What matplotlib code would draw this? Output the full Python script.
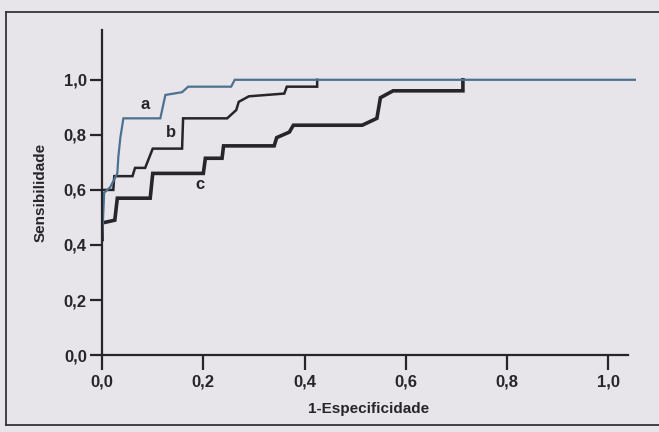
import matplotlib
matplotlib.use("Agg")
import matplotlib.pyplot as plt
from matplotlib.lines import Line2D

# Curvas ROC (1-Especificidade, Sensibilidade)
a_x = [0.0, 0.004, 0.016, 0.03, 0.032, 0.036, 0.042, 0.115, 0.125, 0.158, 0.17, 0.255, 0.262, 1.055]
a_y = [0.42, 0.59, 0.61, 0.66, 0.72, 0.79, 0.86, 0.86, 0.945, 0.955, 0.975, 0.975, 1.0, 1.0]

b_x = [0.0, 0.022, 0.024, 0.06, 0.065, 0.085, 0.1, 0.158, 0.16, 0.247, 0.265, 0.27, 0.29, 0.36, 0.365, 0.425, 0.425]
b_y = [0.6, 0.6, 0.65, 0.65, 0.68, 0.68, 0.75, 0.75, 0.86, 0.86, 0.89, 0.92, 0.94, 0.95, 0.975, 0.975, 1.0]

c_x = [0.0, 0.0, 0.025, 0.03, 0.095, 0.1, 0.2, 0.204, 0.237, 0.24, 0.34, 0.345, 0.37, 0.378,
       0.514, 0.543, 0.55, 0.575, 0.713, 0.713]
c_y = [0.42, 0.48, 0.49, 0.57, 0.57, 0.66, 0.66, 0.715, 0.715, 0.76, 0.76, 0.79, 0.81, 0.835,
       0.835, 0.86, 0.935, 0.96, 0.96, 1.0]

x_ticks = [0.0, 0.2, 0.4, 0.6, 0.8, 1.0]
y_ticks = [0.0, 0.2, 0.4, 0.6, 0.8, 1.0]
x_tick_labels = ["0,0", "0,2", "0,4", "0,6", "0,8", "1,0"]
y_tick_labels = ["0,0", "0,2", "0,4", "0,6", "0,8", "1,0"]

plt.rcParams['font.family'] = ['Liberation Sans', 'DejaVu Sans']
plt.rcParams['font.weight'] = 'bold'
fundo = '#e7e5e9'
tinta = '#26252a'

fig = plt.figure(figsize=(6.59, 4.32), dpi=100, facecolor=fundo)
ax = fig.add_axes([0.155, 0.178, 0.81, 0.752])
ax.set_facecolor(fundo)

ax.plot(c_x, c_y, color=tinta, linewidth=2.6, solid_joinstyle='miter')
ax.plot(b_x, b_y, color=tinta, linewidth=1.8, solid_joinstyle='miter')
ax.plot(a_x, a_y, color='#4d7190', linewidth=1.6, solid_joinstyle='miter')

ax.text(0.085, 0.91, "a", fontsize=12, fontweight='bold', color=tinta, ha='center', va='center')
ax.text(0.136, 0.81, "b", fontsize=12, fontweight='bold', color=tinta, ha='center', va='center')
ax.text(0.194, 0.62, "c", fontsize=12, fontweight='bold', color=tinta, ha='center', va='center')

ax.set_xlim(0, 1.055)
ax.set_ylim(0, 1.18)
ax.set_xticks(x_ticks)
ax.set_xticklabels(x_tick_labels, fontweight='bold')
ax.set_yticks(y_ticks)
ax.set_yticklabels(y_tick_labels, fontweight='bold')
ax.tick_params(axis='y', direction='out', length=9, width=1.6, colors=tinta, labelsize=12, pad=2)
ax.tick_params(axis='x', direction='out', length=11, width=1.6, colors=tinta, labelsize=12, pad=3)
for s in ['top', 'right']:
    ax.spines[s].set_visible(False)
for s in ['left', 'bottom']:
    ax.spines[s].set_linewidth(1.6)
    ax.spines[s].set_color(tinta)
ax.spines['bottom'].set_bounds(0, 1.04)

ax.set_xlabel("1-Especificidade", fontsize=11, fontweight='bold', color=tinta, labelpad=9)
ax.set_ylabel("Sensibilidade", fontsize=11, fontweight='bold', color=tinta, labelpad=12)

# moldura da caixa do livro
W, H = 659, 432
for (x0, y0, x1, y1) in [(6, 12, 659, 12), (6, 12, 6, 425), (6, 425, 659, 425)]:
    fig.add_artist(Line2D([x0 / W, x1 / W], [1 - y0 / H, 1 - y1 / H],
                          transform=fig.transFigure, color='#333338', linewidth=1.3))

fig.savefig("out.png", dpi=100, facecolor=fundo)
